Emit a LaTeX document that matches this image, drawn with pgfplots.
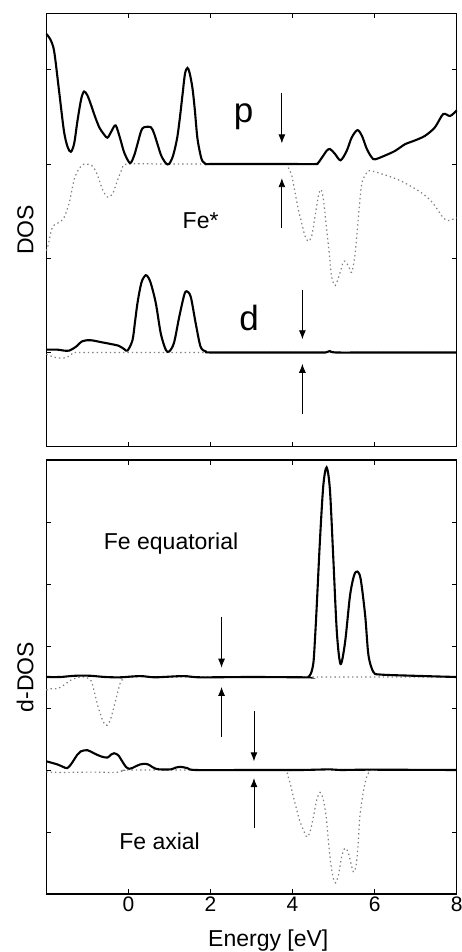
\documentclass[border=0pt]{standalone}
\usepackage{fontspec}
\setmainfont{Liberation Sans}
\usepackage{pgfplots}
\pgfplotsset{compat=1.18}
\usetikzlibrary{arrows.meta}
\tikzset{arr/.style={-{Latex[length=9pt,width=7pt]}, line width=0.9pt, black}}
\newcommand{\labfont}{\fontsize{23}{27}\selectfont}
\newcommand{\tickfont}{\fontsize{21}{25}\selectfont}
\pgfplotsset{
  dosax/.style={
    scale only axis, width=410.4pt, clip=false,
    xmin=-2, xmax=8, xtick={0,2,4,6,8},
    tick align=inside, major tick length=5pt,
    axis line style={line width=1.4pt, black},
    tick style={line width=0.8pt, black},
    yticklabels={},
  },
  up/.style={black, line width=2.1pt, smooth, tension=0.5, no markers},
  dn/.style={gray, line width=1.2pt, dash pattern=on 1.4pt off 3pt, smooth, tension=0.5, no markers},
}
\begin{document}
\begin{tikzpicture}[x=1pt,y=1pt]
\useasboundingbox (0,0) rectangle (461,952);
% ---------------- top panel ----------------
\begin{axis}[dosax, at={(46.3pt,505.3pt)}, anchor=south west, height=433.4pt,
  ymin=0, ymax=4.6, ytick={1,2,3,4}, xticklabels={}]
\addplot[dn] coordinates {(-2.00,2.08) (-1.96,2.13) (-1.85,2.33) (-1.69,2.38) (-1.57,2.43) (-1.44,2.59) (-1.32,2.84) (-1.20,2.95) (-1.08,3.00) (-0.88,2.98) (-0.76,2.89) (-0.63,2.73) (-0.51,2.65) (-0.39,2.68) (-0.27,2.82) (-0.15,2.95) (-0.02,3.00) (1.0,3.0) (2.0,3.0) (3.0,3.0) (3.86,3.00) (3.90,2.96) (3.98,2.88) (4.06,2.70) (4.14,2.52) (4.22,2.38) (4.30,2.24) (4.38,2.18) (4.47,2.24) (4.55,2.45) (4.63,2.66) (4.69,2.73) (4.75,2.63) (4.83,2.31) (4.90,2.03) (4.95,1.81) (5.04,1.71) (5.16,1.85) (5.25,1.97) (5.36,1.92) (5.44,1.85) (5.52,2.03) (5.58,2.31) (5.63,2.56) (5.69,2.80) (5.81,2.91) (5.89,2.93) (6.21,2.89) (6.54,2.84) (6.86,2.77) (7.19,2.68) (7.43,2.58) (7.67,2.43) (7.80,2.40) (8.00,2.43)};
\addplot[up] coordinates {(-2.00,4.38) (-1.91,4.33) (-1.81,4.20) (-1.69,3.78) (-1.57,3.35) (-1.48,3.18) (-1.40,3.13) (-1.32,3.22) (-1.24,3.46) (-1.15,3.69) (-1.08,3.77) (-1.00,3.73) (-0.92,3.64) (-0.81,3.50) (-0.71,3.39) (-0.62,3.33) (-0.51,3.28) (-0.41,3.35) (-0.31,3.41) (-0.20,3.27) (-0.10,3.12) (0.04,3.01) (0.14,3.09) (0.22,3.21) (0.31,3.35) (0.38,3.39) (0.55,3.39) (0.63,3.32) (0.71,3.21) (0.80,3.09) (0.91,3.01) (0.99,3.00) (1.09,3.09) (1.19,3.28) (1.26,3.51) (1.32,3.74) (1.38,3.96) (1.44,4.02) (1.49,3.97) (1.56,3.81) (1.62,3.57) (1.68,3.28) (1.75,3.11) (1.80,3.035) (1.89,3.00) (1.99,3.00) (3.0,3.0) (4.0,3.0) (4.55,3.00) (4.62,3.01) (4.75,3.09) (4.83,3.14) (4.91,3.16) (5.03,3.11) (5.17,3.04) (5.32,3.14) (5.44,3.28) (5.58,3.36) (5.69,3.30) (5.81,3.16) (5.93,3.07) (6.01,3.05) (6.25,3.09) (6.50,3.14) (6.74,3.21) (6.98,3.25) (7.23,3.30) (7.47,3.39) (7.67,3.53) (7.84,3.51) (8.00,3.57)};
\addplot[dn] coordinates {(-2.00,0.98) (-1.93,0.97) (-1.81,0.95) (-1.65,0.94) (-1.49,0.95) (-1.36,0.99) (-1.24,1.0) (0,1.0) (2,1.0) (4,1.0) (6,1.0) (8,1.0)};
\addplot[up] coordinates {(-2.00,1.03) (-1.73,1.03) (-1.57,1.02) (-1.44,1.02) (-1.28,1.06) (-1.12,1.12) (-0.92,1.13) (-0.67,1.11) (-0.43,1.09) (-0.23,1.07) (-0.10,1.035) (-0.02,1.02) (0.10,1.13) (0.16,1.32) (0.22,1.52) (0.29,1.69) (0.34,1.77) (0.42,1.82) (0.48,1.80) (0.55,1.73) (0.67,1.52) (0.79,1.20) (0.91,1.03) (0.99,1.01) (1.11,1.10) (1.24,1.38) (1.36,1.61) (1.42,1.65) (1.52,1.59) (1.64,1.31) (1.76,1.06) (1.89,1.01) (1.99,1.00) (3.0,1.0) (4.5,1.0) (4.8,1.0) (4.91,1.015) (5.05,1.0) (6,1.0) (8,1.0)};
\node[font=\fontsize{35}{40}\selectfont, anchor=base] at (axis cs:2.81,3.44) {p};
\node[font=\labfont, anchor=base] at (axis cs:1.76,2.32) {Fe*};
\node[font=\fontsize{35}{40}\selectfont, anchor=base] at (axis cs:2.94,1.23) {d};
\node[font=\labfont, rotate=90, anchor=base, inner sep=0pt] at (axis cs:-2.314,2.3) {DOS};
\draw[arr] (axis cs:3.74,3.75) -- (axis cs:3.74,3.22);
\draw[arr] (axis cs:3.74,2.32) -- (axis cs:3.74,2.85);
\draw[arr] (axis cs:4.24,1.66) -- (axis cs:4.24,1.14);
\draw[arr] (axis cs:4.24,0.35) -- (axis cs:4.24,0.88);
\end{axis}
% ---------------- bottom panel ----------------
\begin{axis}[dosax, at={(46.3pt,58pt)}, anchor=south west, height=434pt,
  ymin=0, ymax=7, ytick={1,2,3,4,5,6},
  xticklabels={{\tickfont 0},{\tickfont 2},{\tickfont 4},{\tickfont 6},{\tickfont 8}},
  xticklabel style={inner sep=0pt, yshift=-2.5pt}]
\addplot[dn] coordinates {(-2.00,3.29) (-1.89,3.31) (-1.73,3.31) (-1.57,3.37) (-1.40,3.45) (-1.24,3.49) (-1.08,3.50) (-0.92,3.45) (-0.84,3.29) (-0.76,3.07) (-0.67,2.88) (-0.62,2.79) (-0.55,2.72) (-0.49,2.74) (-0.43,2.83) (-0.35,3.02) (-0.27,3.23) (-0.19,3.42) (-0.12,3.47) (-0.06,3.50) (2,3.5) (4,3.5) (6,3.5) (8.00,3.50)};
\addplot[up] coordinates {(-2.00,3.50) (-1.66,3.50) (-1.30,3.52) (-0.93,3.52) (-0.57,3.50) (-0.20,3.495) (0.29,3.515) (0.65,3.495) (1.33,3.515) (1.75,3.495) (3.0,3.5) (4.30,3.495) (4.38,3.50) (4.45,3.56) (4.51,3.74) (4.55,4.15) (4.59,4.65) (4.67,5.73) (4.75,6.59) (4.83,6.88) (4.91,6.53) (4.99,5.46) (5.08,4.22) (5.17,3.71) (5.28,4.06) (5.40,4.81) (5.50,5.14) (5.58,5.20) (5.66,5.08) (5.77,4.49) (5.85,3.85) (5.97,3.58) (6.13,3.54) (6.94,3.52) (8.00,3.50)};
\addplot[dn] coordinates {(-2.00,1.97) (-1.66,1.96) (-1.18,1.965) (-0.69,1.965) (-0.32,1.96) (-0.08,1.99) (0.04,2.00) (2,2.0) (3.84,2.00) (3.87,1.94) (3.94,1.79) (4.02,1.57) (4.10,1.36) (4.18,1.17) (4.26,1.04) (4.35,0.92) (4.43,1.01) (4.51,1.25) (4.59,1.52) (4.67,1.64) (4.75,1.52) (4.82,1.25) (4.87,0.88) (4.93,0.50) (4.99,0.26) (5.05,0.18) (5.12,0.31) (5.20,0.61) (5.28,0.74) (5.36,0.66) (5.48,0.36) (5.55,0.47) (5.60,0.82) (5.64,1.25) (5.72,1.63) (5.81,1.90) (5.89,1.98) (5.96,2.00) (8.0,2.0)};
\addplot[up] coordinates {(-2.00,2.14) (-1.73,2.09) (-1.59,2.05) (-1.49,2.03) (-1.40,2.09) (-1.32,2.17) (-1.24,2.25) (-1.16,2.30) (-1.00,2.32) (-0.84,2.27) (-0.67,2.22) (-0.51,2.20) (-0.42,2.25) (-0.35,2.27) (-0.25,2.24) (-0.15,2.14) (-0.06,2.05) (0.02,2.02) (0.09,2.03) (0.18,2.06) (0.29,2.09) (0.38,2.10) (0.48,2.09) (0.58,2.05) (0.67,2.02) (0.75,2.01) (1.03,2.01) (1.16,2.04) (1.28,2.05) (1.44,2.03) (1.64,2.00) (3.0,2.0) (4.18,2.00) (4.91,2.01) (5.16,2.00) (5.89,2.005) (8.0,2.0)};
\node[font=\labfont, anchor=base] at (axis cs:1.04,5.55) {Fe equatorial};
\node[font=\labfont, anchor=base] at (axis cs:0.76,0.71) {Fe axial};
\node[font=\labfont, rotate=90, anchor=base, inner sep=0pt] at (axis cs:-2.314,3.5) {d-DOS};
\node[font=\labfont, anchor=base, inner sep=0pt] at (axis cs:3.41,-0.849) {Energy [eV]};
\draw[arr] (axis cs:2.27,4.47) -- (axis cs:2.27,3.65);
\draw[arr] (axis cs:2.27,2.53) -- (axis cs:2.27,3.34);
\draw[arr] (axis cs:3.06,2.95) -- (axis cs:3.06,2.14);
\draw[arr] (axis cs:3.06,1.06) -- (axis cs:3.06,1.87);
\end{axis}
\end{tikzpicture}
\end{document}
